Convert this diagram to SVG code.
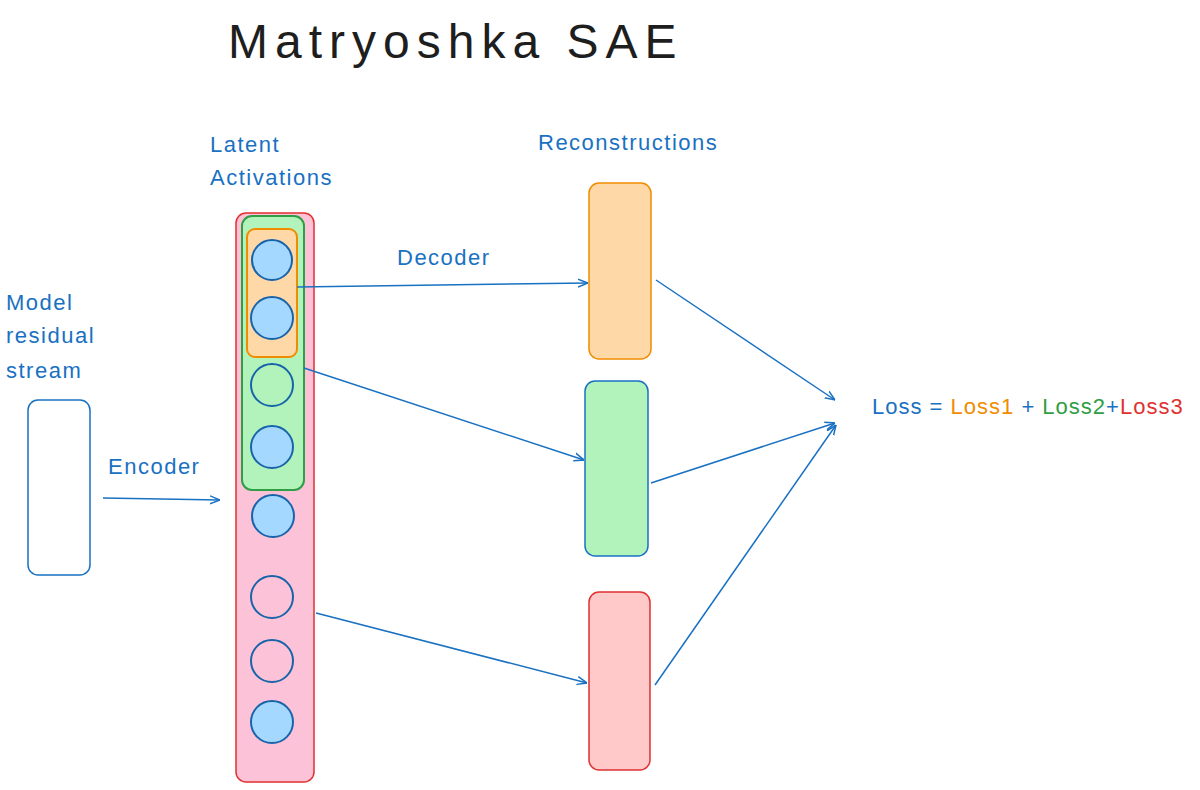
<svg xmlns="http://www.w3.org/2000/svg" width="1200" height="790" viewBox="0 0 1200 790">
<defs>
<style>
text{font-family:"Liberation Sans",sans-serif;fill:#1971c2;letter-spacing:1.5px}
.c{stroke:#1864ab;stroke-width:2;fill:#a5d8ff}
.e{fill:none}
.ln{stroke:#1971c2;stroke-width:1.5;fill:none;marker-end:url(#a)}
</style>
<marker id="a" viewBox="0 0 10 10" refX="10" refY="5" markerWidth="10" markerHeight="10" orient="auto" markerUnits="userSpaceOnUse"><path d="M0,1 L10,5 L0,9" fill="none" stroke="#1971c2" stroke-width="1.5"/></marker>
</defs>
<rect width="1200" height="790" fill="#fff"/>
<text x="228" y="58" font-size="48" style="fill:#1e1e1e;letter-spacing:7px">Matryoshka SAE</text>
<g id="model">
<rect x="28" y="400" width="62" height="175" rx="10" fill="#fff" stroke="#1971c2" stroke-width="1.5"/>
<text x="6" y="310" font-size="22">Model</text><text x="6" y="343" font-size="22">residual</text><text x="6" y="378" font-size="22">stream</text>
</g>
<g id="latent">
<text x="210" y="152" font-size="22">Latent</text><text x="210" y="185" font-size="22">Activations</text>
<rect x="236" y="213" width="78" height="569" rx="10" fill="#fcc2d7" stroke="#e03131" stroke-width="1.5"/>
<rect x="242" y="216" width="62" height="274" rx="10" fill="#b2f2bb" stroke="#2f9e44" stroke-width="2"/>
<rect x="247" y="229" width="50" height="128" rx="8" fill="#ffd8a8" stroke="#f08c00" stroke-width="2"/>
<circle class="c" cx="272" cy="260" r="20"/><circle class="c" cx="272" cy="318" r="21"/>
<circle class="c e" cx="272" cy="385" r="21"/><circle class="c" cx="272" cy="447" r="21"/>
<circle class="c" cx="273" cy="516" r="21"/><circle class="c e" cx="272" cy="597" r="21"/>
<circle class="c e" cx="272" cy="661" r="21"/><circle class="c" cx="272" cy="722" r="21"/>
</g>
<g id="recon">
<text x="538" y="150" font-size="22">Reconstructions</text>
<rect x="589" y="183" width="62" height="176" rx="10" fill="#ffd8a8" stroke="#f08c00" stroke-width="1.5"/>
<rect x="585" y="381" width="63" height="175" rx="10" fill="#b2f2bb" stroke="#1971c2" stroke-width="1.5"/>
<rect x="589" y="592" width="61" height="178" rx="10" fill="#ffc9c9" stroke="#e03131" stroke-width="1.5"/>
</g>
<g id="loss" font-size="22">
<text x="872" y="414" style="letter-spacing:1px"><tspan>Loss = </tspan><tspan style="fill:#f08c00">Loss1</tspan><tspan> + </tspan><tspan style="fill:#2f9e44">Loss2</tspan><tspan>+</tspan><tspan style="fill:#e03131">Loss3</tspan></text>
</g>
<g id="connectors">
<path class="ln" d="M103,498 L220,500"/>
<path class="ln" d="M297,287 L588,283"/>
<path class="ln" d="M304,368 L584,460"/>
<path class="ln" d="M316,613 L587,683"/>
<path class="ln" d="M656,280 L835,400"/>
<path class="ln" d="M651,483 L835,423"/>
<path class="ln" d="M655,685 L836,425"/>
<text x="108" y="474" font-size="22">Encoder</text>
<text x="397" y="265" font-size="22">Decoder</text>
</g>
</svg>
